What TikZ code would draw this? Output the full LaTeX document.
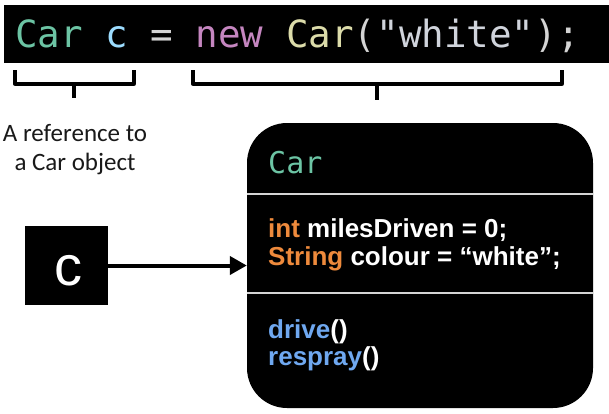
\documentclass[tikz,border=0pt]{standalone}
\usepackage{fontspec}
\usetikzlibrary{arrows.meta}
\newfontfamily\codefont{DejaVu Sans Mono}
\newfontfamily\arialfont{Liberation Sans}
\newfontfamily\calfont{Carlito}
\definecolor{tealc}{HTML}{6CC4A4}
\definecolor{varblue}{HTML}{9CDCFE}
\definecolor{opgrey}{HTML}{D4D4D4}
\definecolor{kwpurple}{HTML}{C586C0}
\definecolor{clsyellow}{HTML}{DCDCAA}
\definecolor{strgrey}{HTML}{D0D4DC}
\definecolor{typeorange}{HTML}{EE8A3C}
\definecolor{methblue}{HTML}{6FA8F0}
\tikzset{
  bracketline/.style={line width=3.3pt, line join=round},
  codetext/.style={inner sep=0pt, anchor=base west, font=\codefont\fontsize{37.5}{45}\selectfont},
  boxtext/.style={inner sep=0pt, anchor=base west, align=left, text=white, font=\arialfont\bfseries\fontsize{26}{28}\selectfont},
  labeltext/.style={inner sep=0pt, align=center, text=black!90, font=\calfont\fontsize{25}{29}\selectfont},
}
\begin{document}
\begin{tikzpicture}[x=1pt,y=-1pt]
\useasboundingbox (0,0) rectangle (609,413);
% code band
\fill[black] (4,5) rectangle (609,63);
\node[codetext] (code) at (15,47) {\textcolor{tealc}{Car} \textcolor{varblue}{c} \textcolor{opgrey}{=} \textcolor{kwpurple}{new} \textcolor{clsyellow}{Car}\textcolor{opgrey}{(}\textcolor{strgrey}{"white"}\textcolor{opgrey}{);}};
% brackets
\coordinate (lb1) at (15,70);
\coordinate (lb2) at (134,70);
\coordinate (lbm) at (74,84);
\coordinate (lbt) at (74,98);
\coordinate (rb1) at (193,70);
\coordinate (rb2) at (562,70);
\coordinate (rbm) at (377,84);
\coordinate (rbt) at (377,100);
\draw[bracketline] (lb1) -- (lb1 |- lbm) -- (lb2 |- lbm) -- (lb2);
\draw[bracketline] (lbm) -- (lbt);
\draw[bracketline] (rb1) -- (rb1 |- rbm) -- (rb2 |- rbm) -- (rb2);
\draw[bracketline] (rbm) -- (rbt);
% label
\node[labeltext, anchor=base] (lab) at (75,170) {A reference to\\a Car object};
% reference square
\node[fill=black, minimum width=83pt, minimum height=79pt, inner sep=0pt] (sq) at (66.5,265.5) {};
\node[inner sep=0pt, anchor=base, text=white, font=\arialfont\fontsize{56}{60}\selectfont] (sqc) at (68,285) {c};
% car object box
\node[fill=black, rounded corners=40pt, minimum width=346pt, minimum height=285pt, inner sep=0pt] (car) at (420,265.5) {};
\coordinate (d1) at (0,194);
\coordinate (d2) at (0,293);
\draw[line width=1.3pt, color=opgrey] (car.west |- d1) -- (car.east |- d1);
\draw[line width=1.3pt, color=opgrey] (car.west |- d2) -- (car.east |- d2);
\node[inner sep=0pt, anchor=base west, text=tealc, font=\codefont\fontsize{30}{36}\selectfont] (title) at (268,173) {Car};
\node[boxtext] (fields) at (268,265) {\textcolor{typeorange}{int} milesDriven = 0;\\\textcolor{typeorange}{String} colour = “white”;};
\node[boxtext, font=\arialfont\bfseries\fontsize{26}{27}\selectfont] (methods) at (268,365) {\textcolor{methblue}{drive}()\\\textcolor{methblue}{respray}()};
% arrow
\draw[line width=4pt, -{Triangle[length=17pt,width=18pt]}] (sq.east) -- (car.west);
\end{tikzpicture}
\end{document}
